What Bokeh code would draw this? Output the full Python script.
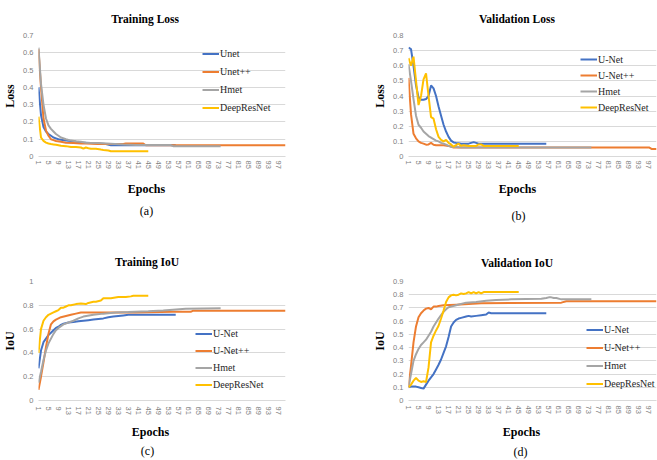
from bokeh.plotting import figure
from bokeh.layouts import column, row
from bokeh.models import (Range1d, FixedTicker, CustomJSTickFormatter, Legend,
                          LegendItem, Title)
from bokeh.embed import file_html
from bokeh.resources import INLINE

# ---------------- data ----------------
EPOCH_TICKS = list(range(1, 101, 4))

# (a) Training Loss
TL_NAMES = ["Unet", "Unet++", "Hmet", "DeepResNet"]
TL_UNET_EP = [1, 2, 3, 4, 5, 6, 7, 8, 9, 10, 12, 14, 16, 18, 20, 22, 25, 28, 30, 33, 37, 45, 56]
TL_UNET = [0.40, 0.24, 0.17, 0.145, 0.13, 0.12, 0.11, 0.105, 0.10, 0.097, 0.093, 0.09, 0.085,
           0.08, 0.08, 0.078, 0.075, 0.072, 0.065, 0.065, 0.065, 0.065, 0.065]
TL_UNETPP_EP = [1, 2, 3, 4, 5, 6, 7, 8, 10, 12, 15, 18, 20, 25, 30, 35, 36, 43, 44, 100]
TL_UNETPP = [0.62, 0.40, 0.22, 0.15, 0.12, 0.10, 0.095, 0.09, 0.085, 0.08, 0.078, 0.075,
             0.075, 0.073, 0.072, 0.072, 0.075, 0.075, 0.065, 0.065]
TL_HMET_EP = [1, 2, 3, 4, 5, 6, 7, 8, 9, 10, 12, 14, 16, 18, 20, 25, 30, 35, 40, 54, 55, 74]
TL_HMET = [0.63, 0.42, 0.30, 0.22, 0.18, 0.16, 0.145, 0.13, 0.12, 0.11, 0.10, 0.092, 0.088,
           0.085, 0.08, 0.078, 0.074, 0.07, 0.067, 0.066, 0.06, 0.06]
TL_DRN_EP = [1, 2, 3, 4, 5, 6, 7, 8, 10, 12, 14, 16, 18, 19, 20, 21, 22, 24, 26, 27, 29, 30, 45]
TL_DRN = [0.23, 0.11, 0.09, 0.08, 0.075, 0.072, 0.07, 0.068, 0.062, 0.06, 0.055, 0.055,
          0.052, 0.045, 0.052, 0.048, 0.045, 0.045, 0.04, 0.038, 0.035, 0.03, 0.03]

# (b) Validation Loss
VL_NAMES = ["U-Net", "U-Net++", "Hmet", "DeepResNet"]
VL_UNET_EP = [1, 2, 3, 4, 5, 6, 7, 8, 9, 10, 11, 12, 13, 14, 15, 16, 17, 18, 19, 20, 21, 22,
              25, 26, 27, 28, 29, 56]
VL_UNET = [0.72, 0.71, 0.60, 0.47, 0.39, 0.375, 0.375, 0.38, 0.40, 0.47, 0.45, 0.40, 0.33,
           0.27, 0.21, 0.165, 0.13, 0.105, 0.093, 0.09, 0.088, 0.085, 0.085, 0.09, 0.095,
           0.09, 0.085, 0.085]
VL_UNETPP_EP = [1, 2, 3, 4, 5, 6, 7, 8, 9, 10, 11, 12, 15, 17, 19, 25, 30, 97, 98, 100]
VL_UNETPP = [0.52, 0.28, 0.15, 0.12, 0.10, 0.09, 0.085, 0.078, 0.08, 0.09, 0.078, 0.075,
             0.075, 0.07, 0.06, 0.06, 0.06, 0.06, 0.05, 0.05]
VL_HMET_EP = [1, 2, 3, 4, 5, 6, 7, 8, 9, 10, 11, 12, 13, 14, 15, 16, 17, 18, 20, 22, 74]
VL_HMET = [0.61, 0.50, 0.38, 0.27, 0.21, 0.19, 0.165, 0.15, 0.135, 0.125, 0.115, 0.105, 0.10,
           0.09, 0.085, 0.078, 0.07, 0.065, 0.062, 0.06, 0.06]
VL_DRN_EP = [1, 2, 3, 4, 5, 6, 7, 8, 9, 10, 11, 12, 13, 14, 15, 16, 17, 18, 19, 20, 21, 22,
             23, 25, 28, 29, 30, 31, 45]
VL_DRN = [0.65, 0.60, 0.66, 0.50, 0.34, 0.40, 0.51, 0.55, 0.40, 0.26, 0.25, 0.18, 0.13, 0.11,
          0.10, 0.11, 0.09, 0.08, 0.065, 0.075, 0.085, 0.07, 0.075, 0.07, 0.07, 0.08, 0.08,
          0.07, 0.07]

# (c) Training IoU
TI_NAMES = ["U-Net", "U-Net++", "Hmet", "DeepResNet"]
TI_UNET_EP = [1, 2, 3, 4, 5, 6, 7, 8, 9, 10, 11, 13, 15, 17, 19, 21, 23, 25, 27, 29, 31, 33,
              35, 37, 56]
TI_UNET = [0.27, 0.42, 0.49, 0.52, 0.55, 0.57, 0.59, 0.61, 0.62, 0.635, 0.645, 0.655, 0.66,
           0.665, 0.67, 0.675, 0.68, 0.685, 0.69, 0.70, 0.705, 0.71, 0.715, 0.72, 0.72]
TI_UNETPP_EP = [1, 2, 3, 4, 5, 6, 7, 8, 9, 10, 12, 14, 16, 18, 25, 40, 55, 62, 63, 100]
TI_UNETPP = [0.09, 0.20, 0.32, 0.45, 0.56, 0.64, 0.665, 0.68, 0.69, 0.70, 0.71, 0.72, 0.73,
             0.74, 0.74, 0.74, 0.745, 0.745, 0.755, 0.755]
TI_HMET_EP = [1, 2, 3, 4, 5, 6, 7, 8, 9, 10, 11, 13, 15, 17, 19, 23, 27, 32, 37, 45, 51, 60, 74]
TI_HMET = [0.15, 0.24, 0.34, 0.42, 0.48, 0.52, 0.56, 0.59, 0.61, 0.625, 0.64, 0.655, 0.67,
           0.69, 0.705, 0.72, 0.73, 0.74, 0.743, 0.75, 0.757, 0.77, 0.776]
TI_DRN_EP = [1, 2, 3, 4, 5, 6, 7, 8, 9, 10, 11, 12, 13, 14, 16, 18, 20, 21, 23, 24, 26, 27,
             30, 33, 36, 38, 39, 45]
TI_DRN = [0.40, 0.60, 0.67, 0.70, 0.72, 0.73, 0.74, 0.75, 0.76, 0.78, 0.78, 0.79, 0.80, 0.80,
          0.81, 0.815, 0.81, 0.82, 0.83, 0.83, 0.84, 0.86, 0.86, 0.87, 0.87, 0.875, 0.88, 0.88]

# (d) Validation IoU
VI_NAMES = ["U-Net", "U-Net++", "Hmet", "DeepResNet"]
VI_UNET_EP = [1, 2, 3, 4, 5, 6, 7, 8, 9, 10, 11, 12, 13, 14, 15, 16, 17, 18, 19, 20, 21, 22,
              24, 25, 26, 28, 30, 32, 33, 34, 56]
VI_UNET = [0.10, 0.105, 0.105, 0.105, 0.10, 0.095, 0.09, 0.12, 0.15, 0.175, 0.20, 0.235,
           0.27, 0.31, 0.36, 0.41, 0.48, 0.56, 0.59, 0.61, 0.62, 0.625, 0.635, 0.64, 0.635,
           0.64, 0.645, 0.65, 0.665, 0.66, 0.66]
VI_UNETPP_EP = [1, 2, 3, 4, 5, 6, 7, 8, 9, 10, 11, 12, 13, 15, 20, 25, 30, 62, 64, 100]
VI_UNETPP = [0.10, 0.26, 0.44, 0.56, 0.63, 0.66, 0.68, 0.695, 0.70, 0.69, 0.71, 0.71, 0.715,
             0.72, 0.725, 0.73, 0.735, 0.74, 0.75, 0.75]
VI_HMET_EP = [1, 2, 3, 4, 5, 6, 7, 8, 9, 10, 11, 12, 13, 14, 15, 16, 17, 18, 20, 24, 28, 32,
              36, 42, 54, 56, 57, 58, 59, 60, 62, 74]
VI_HMET = [0.10, 0.20, 0.30, 0.35, 0.39, 0.42, 0.44, 0.46, 0.49, 0.52, 0.56, 0.59, 0.62,
           0.645, 0.67, 0.69, 0.705, 0.71, 0.72, 0.74, 0.745, 0.755, 0.76, 0.765, 0.77,
           0.775, 0.78, 0.78, 0.775, 0.775, 0.765, 0.765]
VI_DRN_EP = [1, 2, 3, 4, 5, 6, 7, 8, 9, 10, 11, 12, 13, 14, 15, 16, 17, 18, 19, 20, 21, 22,
             23, 24, 25, 26, 27, 28, 29, 30, 31, 32, 45]
VI_DRN = [0.10, 0.12, 0.15, 0.17, 0.15, 0.14, 0.145, 0.14, 0.25, 0.44, 0.49, 0.53, 0.565,
          0.62, 0.68, 0.745, 0.78, 0.795, 0.80, 0.795, 0.80, 0.81, 0.805, 0.81, 0.82, 0.81,
          0.82, 0.81, 0.82, 0.81, 0.82, 0.82, 0.82]

COLORS = ["#4472C4", "#ED7D31", "#A5A5A5", "#FFC000"]

SERIF = "Liberation Serif"
SANS = "Liberation Sans"

# approximate advance widths (per 1000 em) of Times-like fonts, used to centre titles
BOLD_W = {"T": 667, "r": 444, "a": 500, "i": 278, "n": 556, "g": 500, " ": 250, "L": 667,
          "o": 500, "s": 389, "V": 722, "l": 278, "d": 556, "t": 333, "I": 389, "U": 722,
          "E": 667, "p": 556, "c": 444, "h": 556}
REG_W = {"(": 333, ")": 333, "a": 444, "b": 500, "c": 444, "d": 500}


def text_w(t, size, table):
    return sum(table.get(ch, 500) for ch in t) * size / 1000.0


def panel(title, ylabel, caption, ymax, ystep, series, names, W, H, borders,
          legend_loc, legend_lh, legend_sp, centers, t_so, x_so, e_so, c_so):
    left, right, top, bottom = borders
    p = figure(width=W, height=H, output_backend="svg", toolbar_location=None,
               x_range=Range1d(1, 100), y_range=Range1d(0, ymax),
               min_border_left=left, min_border_right=right,
               min_border_top=top, min_border_bottom=bottom)
    p.outline_line_color = None
    p.border_fill_color = "white"
    p.background_fill_color = "white"
    p.xgrid.visible = False
    nt = int(round(ymax / ystep))
    yt = [round(i * ystep, 2) for i in range(nt + 1)]
    p.yaxis.ticker = FixedTicker(ticks=yt)
    p.ygrid.ticker = FixedTicker(ticks=yt)
    p.ygrid.grid_line_color = "#D9D9D9"
    p.ygrid.grid_line_width = 1
    p.yaxis.formatter = CustomJSTickFormatter(code="""
        if (Math.abs(tick) < 1e-9) return '0';
        if (Math.abs(tick - 1) < 1e-9) return '1';
        return tick.toFixed(1);
    """)
    p.xaxis.ticker = FixedTicker(ticks=EPOCH_TICKS)
    p.xaxis.major_label_orientation = "vertical"
    for ax in (p.xaxis, p.yaxis):
        ax.major_tick_line_color = None
        ax.minor_tick_line_color = None
        ax.major_tick_out = 0
        ax.major_tick_in = 0
        ax.minor_tick_out = 0
        ax.minor_tick_in = 0
        ax.major_label_text_font = SANS
        ax.major_label_text_font_size = "7.5px"
        ax.major_label_text_color = "#808080"
    p.yaxis.axis_line_color = None
    p.xaxis.axis_line_color = "#D9D9D9"
    p.xaxis.major_label_standoff = x_so
    p.yaxis.major_label_standoff = 5
    p.yaxis.axis_label = ylabel
    p.yaxis.axis_label_text_font = SERIF
    p.yaxis.axis_label_text_font_style = "bold"
    p.yaxis.axis_label_text_font_size = "12px"
    p.yaxis.axis_label_text_color = "black"
    p.yaxis.axis_label_standoff = 3

    items = []
    for (ep, val), name, col in zip(series, names, COLORS):
        r = p.line(x=ep, y=val, line_color=col, line_width=2)
        items.append(LegendItem(label=name, renderers=[r]))
    leg = Legend(items=items, location=legend_loc, background_fill_alpha=0,
                 border_line_alpha=0, padding=0, margin=0, spacing=legend_sp,
                 label_height=legend_lh, glyph_height=legend_lh, glyph_width=17,
                 label_standoff=1, label_text_font=SERIF,
                 label_text_font_size="10px", label_text_color="#262626")
    p.add_layout(leg)

    tc, ec, cc = centers
    ts, es, cs = 11.5, 12, 12
    t = Title(text=title, align="left", vertical_align="top",
              offset=tc - text_w(title, ts, BOLD_W) / 2,
              standoff=t_so, text_font=SERIF, text_font_style="bold",
              text_font_size=f"{ts}px", text_color="black")
    p.add_layout(t, "above")
    te = Title(text="Epochs", align="left", vertical_align="bottom",
               offset=ec - text_w("Epochs", es, BOLD_W) / 2,
               standoff=e_so, text_font=SERIF, text_font_style="bold",
               text_font_size=f"{es}px", text_color="black")
    p.add_layout(te, "below")
    tcap = Title(text=caption, align="left", vertical_align="top",
                 offset=cc - text_w(caption, cs, REG_W) / 2,
                 standoff=c_so, text_font=SERIF,
                 text_font_style="normal", text_font_size=f"{cs}px", text_color="black")
    p.add_layout(tcap, "below")
    return p


pa = panel("Training Loss", "Loss", "(a)", 0.7, 0.1,
           [(TL_UNET_EP, TL_UNET), (TL_UNETPP_EP, TL_UNETPP),
            (TL_HMET_EP, TL_HMET), (TL_DRN_EP, TL_DRN)], TL_NAMES,
           330, 230, (38, 45, 35, 74), (164, 42), 13, 5, (107, 108, 108),
           18, 4, 16, 0)
pb = panel("Validation Loss", "Loss", "(b)", 0.8, 0.1,
           [(VL_UNET_EP, VL_UNET), (VL_UNETPP_EP, VL_UNETPP),
            (VL_HMET_EP, VL_HMET), (VL_DRN_EP, VL_DRN)], VL_NAMES,
           327, 230, (78, 1, 35, 74), (172, 43), 12, 4, (109, 109, 110),
           18, 4, 16, 10)
pc = panel("Training IoU", "IoU", "(c)", 1.0, 0.2,
           [(TI_UNET_EP, TI_UNET), (TI_UNETPP_EP, TI_UNETPP),
            (TI_HMET_EP, TI_HMET), (TI_DRN_EP, TI_DRN)], TI_NAMES,
           330, 230, (38, 45, 51, 60), (157, 9), 13, 4, (109, 112, 109),
           24, 6, 10, 0)
pd_ = panel("Validation IoU", "IoU", "(d)", 0.9, 0.1,
            [(VI_UNET_EP, VI_UNET), (VI_UNETPP_EP, VI_UNETPP),
             (VI_HMET_EP, VI_HMET), (VI_DRN_EP, VI_DRN)], VI_NAMES,
            327, 230, (78, 1, 51, 60), (178, 10), 13, 5, (109, 113, 112),
            22, 5, 12, 0)

layout = column(row(pa, pb), row(pc, pd_))
open("out.html", "w").write(file_html(layout, INLINE))
